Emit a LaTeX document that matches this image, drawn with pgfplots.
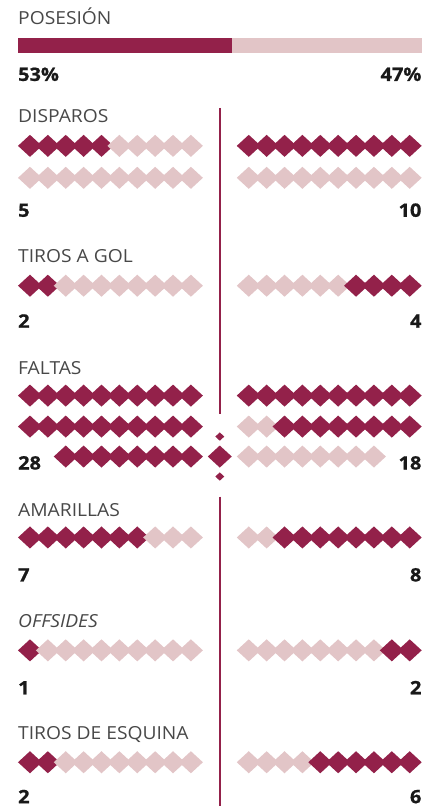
\documentclass[border=0pt]{standalone}
\usepackage{pgfplots}
\pgfplotsset{compat=1.18}
\usepackage{fontspec}
\setmainfont{Open Sans}
\newfontfamily\lblfont{Open Sans}[FakeStretch=1.07]
\newfontfamily\numfont{Open Sans}[BoldFeatures={FakeBold=0.9, FakeStretch=1.08}]
\definecolor{dk}{RGB}{147,33,74}
\definecolor{lt}{RGB}{226,197,199}
\definecolor{lab}{RGB}{72,72,72}
\definecolor{num}{RGB}{25,25,25}
\pgfdeclareplotmark{rhomb}{%
 \pgfpathmoveto{\pgfqpoint{0pt}{0.92\pgfplotmarksize}}%
 \pgfpathlineto{\pgfqpoint{\pgfplotmarksize}{0pt}}%
 \pgfpathlineto{\pgfqpoint{0pt}{-0.92\pgfplotmarksize}}%
 \pgfpathlineto{\pgfqpoint{-\pgfplotmarksize}{0pt}}%
 \pgfpathclose\pgfusepathqfill}
\begin{document}
\begin{tikzpicture}[
 lbl/.style={anchor=base west, inner sep=0pt, text=lab, font=\lblfont\fontsize{18}{20}\selectfont},
 nl/.style={anchor=base west, inner sep=0pt, text=num, font=\numfont\fontsize{18.5}{20}\selectfont\bfseries},
 nr/.style={anchor=base east, inner sep=0pt, text=num, font=\numfont\fontsize{18.5}{20}\selectfont\bfseries}]
\begin{axis}[x=1pt, y=1pt, y dir=reverse, xmin=0, xmax=440, ymin=0, ymax=807,
  hide axis, clip=false,
  left/.style={only marks, mark=rhomb, mark size=12pt, x filter/.expression={12.1+17.9*x}},
  right/.style={only marks, mark=rhomb, mark size=12pt, x filter/.expression={231.1+17.9*x}}]
\path (axis cs:0,0) rectangle (axis cs:440,807);

% possession bar (percent)
\addplot[fill=lt, draw=none, x filter/.expression={18+4.04*x}] coordinates {(0,38) (100,38) (100,53) (0,53)} -- cycle;
\addplot[fill=dk, draw=none, x filter/.expression={18+4.04*x}] coordinates {(0,38) (53,38) (53,53) (0,53)} -- cycle;

% vertical divider
\addplot[dk, line width=1.6pt] coordinates {(220,108) (220,414)};
\addplot[dk, line width=1.6pt] coordinates {(220,497) (220,807)};

% left side: dark first, then light
\addplot[left, color=dk] coordinates {
 (1,146) (2,146) (3,146) (4,146) (5,146)
 (1,286) (2,286)
 (1,396) (2,396) (3,396) (4,396) (5,396) (6,396) (7,396) (8,396) (9,396) (10,396)
 (1,427) (2,427) (3,427) (4,427) (5,427) (6,427) (7,427) (8,427) (9,427) (10,427)
 (3,457) (4,457) (5,457) (6,457) (7,457) (8,457) (9,457) (10,457)
 (1,538) (2,538) (3,538) (4,538) (5,538) (6,538) (7,538)
 (1,651)
 (1,763) (2,763)};
\addplot[left, color=lt] coordinates {
 (6,146) (7,146) (8,146) (9,146) (10,146)
 (1,178) (2,178) (3,178) (4,178) (5,178) (6,178) (7,178) (8,178) (9,178) (10,178)
 (3,286) (4,286) (5,286) (6,286) (7,286) (8,286) (9,286) (10,286)
 (8,538) (9,538) (10,538)
 (2,651) (3,651) (4,651) (5,651) (6,651) (7,651) (8,651) (9,651) (10,651)
 (3,763) (4,763) (5,763) (6,763) (7,763) (8,763) (9,763) (10,763)};

% right side: light first, then dark
\addplot[right, color=lt] coordinates {
 (1,178) (2,178) (3,178) (4,178) (5,178) (6,178) (7,178) (8,178) (9,178) (10,178)
 (1,286) (2,286) (3,286) (4,286) (5,286) (6,286)
 (1,427) (2,427)
 (1,457) (2,457) (3,457) (4,457) (5,457) (6,457) (7,457) (8,457)
 (1,538) (2,538)
 (1,651) (2,651) (3,651) (4,651) (5,651) (6,651) (7,651) (8,651)
 (1,763) (2,763) (3,763) (4,763)};
\addplot[right, color=dk] coordinates {
 (1,146) (2,146) (3,146) (4,146) (5,146) (6,146) (7,146) (8,146) (9,146) (10,146)
 (7,286) (8,286) (9,286) (10,286)
 (1,396) (2,396) (3,396) (4,396) (5,396) (6,396) (7,396) (8,396) (9,396) (10,396)
 (3,427) (4,427) (5,427) (6,427) (7,427) (8,427) (9,427) (10,427)
 (3,538) (4,538) (5,538) (6,538) (7,538) (8,538) (9,538) (10,538)
 (9,651) (10,651)
 (5,763) (6,763) (7,763) (8,763) (9,763) (10,763)};

% centre ornament (faltas)
\addplot[only marks, mark=rhomb, mark size=12pt, color=dk] coordinates {(220,457)};
\addplot[only marks, mark=rhomb, mark size=4.5pt, color=dk] coordinates {(220,437) (220,477)};

% labels
\node[lbl] at (axis cs:18,25) {POSESIÓN};
\node[nl] at (axis cs:18,81) {53\%};
\node[nr] at (axis cs:422,81) {47\%};
\node[lbl] at (axis cs:18,123) {DISPAROS};
\node[nl] at (axis cs:18,217) {5};
\node[nr] at (axis cs:422,217) {10};
\node[lbl] at (axis cs:18,263) {TIROS A GOL};
\node[nl] at (axis cs:18,328) {2};
\node[nr] at (axis cs:422,328) {4};
\node[lbl] at (axis cs:18,375) {FALTAS};
\node[nl] at (axis cs:18,470) {28};
\node[nr] at (axis cs:422,470) {18};
\node[lbl] at (axis cs:18,517) {AMARILLAS};
\node[nl] at (axis cs:18,582) {7};
\node[nr] at (axis cs:422,582) {8};
\node[lbl, font=\lblfont\fontsize{18}{20}\selectfont\itshape] at (axis cs:18,628) {OFFSIDES};
\node[nl] at (axis cs:18,695) {1};
\node[nr] at (axis cs:422,695) {2};
\node[lbl] at (axis cs:18,740) {TIROS DE ESQUINA};
\node[nl] at (axis cs:18,804) {2};
\node[nr] at (axis cs:422,804) {6};
\end{axis}
\end{tikzpicture}
\end{document}
